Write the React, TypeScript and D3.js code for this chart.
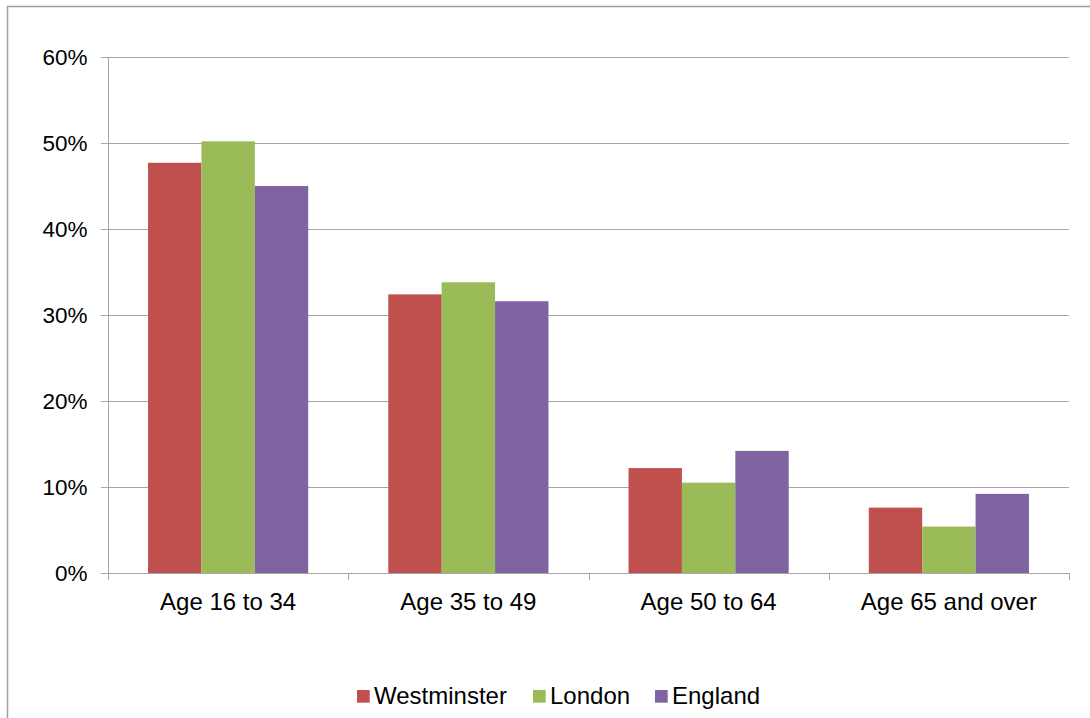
import React from "react";
import * as d3 from "d3";

const categories = ["Age 16 to 34", "Age 35 to 49", "Age 50 to 64", "Age 65 and over"];
const seriesNames = ["Westminster", "London", "England"];
const westminster = [0.477, 0.324, 0.122, 0.076];
const london = [0.502, 0.338, 0.105, 0.054];
const england = [0.450, 0.316, 0.142, 0.092];
const colors = ["#C0504D", "#9BBB59", "#8064A2"];
const yTicks = [0, 0.1, 0.2, 0.3, 0.4, 0.5, 0.6];

const W = 1090;
const H = 718;
const plot = { left: 108, right: 1069, top: 57, bottom: 573 };
const FONT = "'Liberation Sans', Arial, sans-serif";

export default function App() {
  const values = [westminster, london, england];
  const x = d3.scaleBand<string>().domain(categories).range([plot.left, plot.right]).paddingInner(0).paddingOuter(0);
  const y = d3.scaleLinear().domain([0, 0.6]).range([plot.bottom, plot.top]);
  const band = x.bandwidth();
  const barW = band / 4.5;
  const fmt = d3.format(".0%");
  const grid = "#A6A6A6";

  const legendX = [357, 533, 655];

  return (
    <svg width={W} height={H} style={{ position: "absolute", left: 0, top: 0 }} fontFamily={FONT}>
      <rect x={0} y={0} width={W} height={H} fill="#fff" />
      <rect x={7.5} y={6.5} width={W + 10} height={H + 10} fill="none" stroke="#A0A0A0" strokeWidth={1.5} />
      {yTicks.map((t) => (
        <g key={t}>
          {t > 0 && <line x1={plot.left} x2={plot.right} y1={Math.round(y(t)) + 0.5} y2={Math.round(y(t)) + 0.5} stroke={grid} strokeWidth={1} />}
          <line x1={plot.left - 7} x2={plot.left} y1={Math.round(y(t)) + 0.5} y2={Math.round(y(t)) + 0.5} stroke={grid} strokeWidth={1} />
          <text x={87.5} y={y(t)} dy="0.36em" textAnchor="end" fontSize={22.5} fill="#000">{fmt(t)}</text>
        </g>
      ))}
      {categories.map((c, ci) => (
        <g key={c}>
          {values.map((vals, si) => {
            const x0 = (x(c) as number) + band * (0.75 / 4.5) + si * barW;
            return (
              <rect key={si} x={x0} y={y(vals[ci])} width={barW} height={y(0) - y(vals[ci])} fill={colors[si]} />
            );
          })}
          <text x={(x(c) as number) + band / 2} y={609.5} textAnchor="middle" fontSize={24} fill="#000">{c}</text>
        </g>
      ))}
      <line x1={plot.left + 0.5} x2={plot.left + 0.5} y1={plot.top} y2={plot.bottom} stroke={grid} />
      <line x1={plot.left} x2={plot.right} y1={plot.bottom + 0.5} y2={plot.bottom + 0.5} stroke={grid} />
      {[0, 1, 2, 3, 4].map((i) => {
        const xx = Math.round(plot.left + i * band) + 0.5;
        return <line key={i} x1={xx} x2={xx} y1={plot.bottom} y2={plot.bottom + 7} stroke={grid} />;
      })}
      {seriesNames.map((n, i) => (
        <g key={n}>
          <rect x={legendX[i]} y={690} width={12.7} height={12.7} fill={colors[i]} />
          <text x={legendX[i] + 17} y={704} fontSize={24} fill="#000">{n}</text>
        </g>
      ))}
    </svg>
  );
}
